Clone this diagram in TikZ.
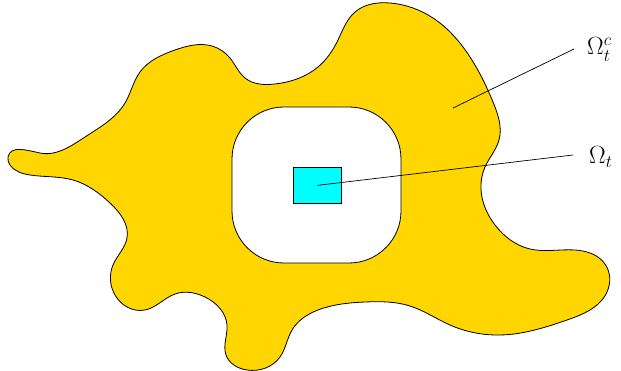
\documentclass[tikz,border=0pt]{standalone}
\usepackage{tikz}
\usetikzlibrary{hobby}
\definecolor{blobgold}{RGB}{255,214,0}
\definecolor{boxcyan}{RGB}{0,255,255}
\tikzset{
  outline/.style={draw=black, line width=0.8pt},
  leader/.style={draw=black, line width=0.7pt},
  lbl/.style={font=\fontsize{24}{28}\selectfont, anchor=base west, inner sep=0pt}
}
\begin{document}
\begin{tikzpicture}[x=1pt,y=-1pt]
\useasboundingbox (0,0) rectangle (621,371);
% outer domain
\filldraw[outline, fill=blobgold, use Hobby shortcut, closed=true]
 (8,157) .. (40,153) .. (85,137) .. (125,103) .. (140,72) .. (175,50)
 .. (212,46) .. (230,58) .. (245,78) .. (275,84) .. (318,67) .. (337,42)
 .. (355,12) .. (390,3) .. (433,18) .. (470,57) .. (493,102) .. (499,140)
 .. (485,167) .. (481,190) .. (495,225) .. (530,249) .. (575,250)
 .. (605,264) .. (607,292) .. (567,320) .. (500,335) .. (450,325)
 .. (410,306) .. (365,302) .. (318,310) .. (292,330) .. (280,357)
 .. (247,370) .. (226,355) .. (227,325) .. (205,297) .. (175,294)
 .. (145,310) .. (115,295) .. (113,265) .. (127,238) .. (110,203)
 .. (73,180) .. (30,175) .. (10,165);
% inner hole
\filldraw[outline, fill=white, rounded corners=52] (232,107) rectangle (401,263);
% small set
\node[outline, fill=boxcyan, minimum width=48.5pt, minimum height=36pt, inner sep=0pt, anchor=north west] (box) at (292.5,167) {};
\coordinate (cpt) at (453,108);
% labels
\node[lbl] (omc) at (587,55) {$\Omega_t^c$};
\node[lbl] (om) at (589,164) {$\Omega_t$};
\coordinate (omcend) at (574,49);
\coordinate (omend) at (573,155);
\draw[leader] (cpt) -- (omcend);
\draw[leader] (box.center) -- (omend);
\end{tikzpicture}
\end{document}
